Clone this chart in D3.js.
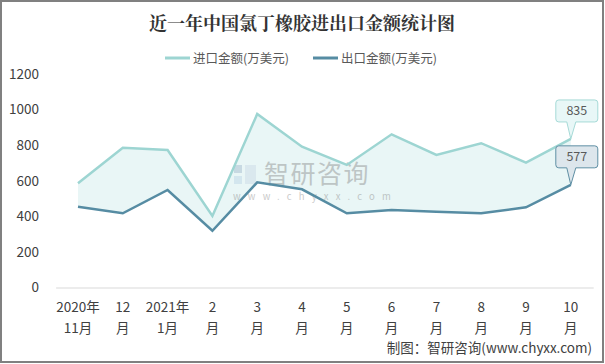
<!DOCTYPE html>
<html><head><meta charset="utf-8">
<script src="https://cdn.jsdelivr.net/npm/d3@7"></script>
<style>
body{margin:0;background:#fff;}
svg{display:block;font-family:"Microsoft YaHei","Noto Sans CJK SC",sans-serif;}
</style></head>
<body><svg id="c" width="605" height="364"></svg>
<script>
const categories = [["2020年","11月"],["12","月"],["2021年","1月"],["2","月"],["3","月"],["4","月"],["5","月"],["6","月"],["7","月"],["8","月"],["9","月"],["10","月"]];
const importValues = [586, 786, 773, 402, 975, 791, 689, 861, 745, 811, 702, 835];
const exportValues = [454, 417, 548, 319, 591, 552, 417, 436, 426, 417, 451, 577];
const yTicks = [0, 200, 400, 600, 800, 1000, 1200];
const seriesNames = ["进口金额(万美元)", "出口金额(万美元)"];
const title = "近一年中国氯丁橡胶进出口金额统计图";
const source = "制图：智研咨询(www.chyxx.com)";

const lightColor = "#9dd5d2", darkColor = "#568ca3";
const svg = d3.select("#c");
svg.append("rect").attr("x",1).attr("y",1).attr("width",602).attr("height",361)
  .attr("fill","#fff").attr("stroke","#808080").attr("stroke-width",2);

const x = d3.scaleBand().domain(d3.range(categories.length)).range([55.6, 593.2]);
const y = d3.scaleLinear().domain([0,1200]).range([287.5, 74]);
const cx = i => x(i) + x.bandwidth()/2;

// title
svg.append("text").attr("x",302).attr("y",30).attr("text-anchor","middle")
  .attr("font-size",18).attr("font-weight","bold").attr("fill","#333")
  .attr("font-family","'Noto Serif CJK SC','Noto Sans CJK SC',serif").text(title);

// legend
const leg = [{x:165,c:lightColor,t:seriesNames[0]},{x:313,c:darkColor,t:seriesNames[1]}];
leg.forEach(l=>{
  svg.append("line").attr("x1",l.x).attr("x2",l.x+25).attr("y1",58).attr("y2",58)
    .attr("stroke",l.c).attr("stroke-width",3);
  svg.append("text").attr("x",l.x+28).attr("y",62.5).attr("font-size",12.5).attr("fill","#595959").text(l.t);
});

// y axis labels
const yAxis = d3.axisLeft(y).tickValues(yTicks).tickSize(0).tickPadding(0).tickFormat(d3.format("d"));
const ya = svg.append("g").attr("transform","translate(39,0)").call(yAxis);
ya.select(".domain").remove();
ya.selectAll("text").attr("font-size",13.5).attr("fill","#404040")
  .attr("font-family","'Microsoft YaHei','Noto Sans CJK SC',sans-serif");

// x axis
const xAxis = d3.axisBottom(x).tickSize(0).tickFormat("");
const xa = svg.append("g").attr("transform","translate(0,287.5)").call(xAxis);
xa.select(".domain").attr("stroke","#d9d9d9").attr("stroke-width",1);
xa.selectAll(".tick").each(function(d){
  const g = d3.select(this);
  g.selectAll("text").remove();
  const t = g.append("text").attr("text-anchor","middle").attr("font-size",13.5).attr("fill","#404040")
    .attr("font-family","'Microsoft YaHei','Noto Sans CJK SC',sans-serif");
  t.append("tspan").attr("x",0).attr("y",24).text(categories[d][0]);
  t.append("tspan").attr("x",0).attr("y",45).text(categories[d][1]);
});

// area between
const idx = d3.range(categories.length);
const area = d3.area().x(i=>cx(i)).y0(i=>y(exportValues[i])).y1(i=>y(importValues[i]));
svg.append("path").attr("d",area(idx)).attr("fill","#e9f6f6");

// watermark
const wm = svg.append("g").attr("opacity",0.45);
wm.append("rect").attr("x",234).attr("y",165).attr("width",8).attr("height",8).attr("fill","#9fb8cc");
wm.append("rect").attr("x",234).attr("y",176).attr("width",8).attr("height",8).attr("fill","#b9d3e6");
wm.append("rect").attr("x",245).attr("y",165).attr("width",11).attr("height",19).attr("fill","#c9d9e6");
wm.append("text").attr("x",264).attr("y",183).attr("font-size",25).attr("letter-spacing",1.5).attr("fill","#8a8a8a").text("智研咨询");
wm.append("text").attr("x",233).attr("y",200).attr("font-size",9.5).attr("letter-spacing",7.2).attr("fill","#8a8a8a").text("www.chyxx.com");

const line = vals => d3.line().x(i=>cx(i)).y(i=>y(vals[i]))(idx);
svg.append("path").attr("d",line(importValues)).attr("fill","none").attr("stroke",lightColor).attr("stroke-width",2.5);
svg.append("path").attr("d",line(exportValues)).attr("fill","none").attr("stroke",darkColor).attr("stroke-width",2.5);

// callouts
function callout(i, v, fill, stroke){
  const px = cx(i), py = y(v);
  const w = 42, h = 22, bx = px - 15, by = py - 39;
  const p = `M${bx+3},${by} H${bx+w-3} Q${bx+w},${by} ${bx+w},${by+3} V${by+h-3} Q${bx+w},${by+h} ${bx+w-3},${by+h} H${px+5} L${px},${py} L${px-4},${by+h} H${bx+3} Q${bx},${by+h} ${bx},${by+h-3} V${by+3} Q${bx},${by} ${bx+3},${by} Z`;
  svg.append("path").attr("d",p).attr("fill",fill).attr("stroke",stroke).attr("stroke-width",1);
  svg.append("text").attr("x",bx+w/2).attr("y",by+15.5).attr("text-anchor","middle")
    .attr("font-size",12.5).attr("fill","#595959").text(v);
}
const last = categories.length-1;
callout(last, importValues[last], "#e8f7f7", "#a6dad7");
callout(last, exportValues[last], "#dde6ec", "#5f8fa4");

// source
svg.append("text").attr("x",592).attr("y",353).attr("text-anchor","end").attr("font-size",13.5)
  .attr("fill","#404040").text(source);
</script></body></html>
